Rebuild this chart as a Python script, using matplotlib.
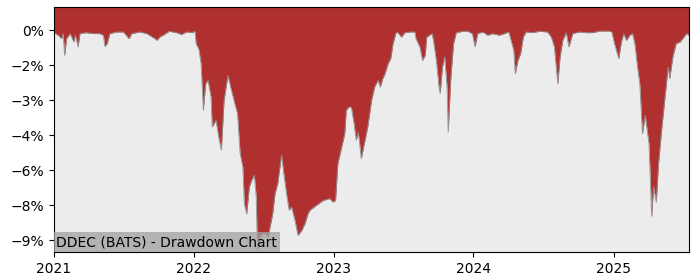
import numpy as np
import pandas as pd
import matplotlib
matplotlib.use("Agg")
import matplotlib.pyplot as plt
from matplotlib.ticker import PercentFormatter, MultipleLocator
import matplotlib.dates as mdates

# Данные просадки (в процентах)
dates = [
    "2021-01-01", "2021-01-12", "2021-01-21", "2021-01-25", "2021-01-29", "2021-02-03",
    "2021-02-12", "2021-02-22", "2021-02-26", "2021-03-05", "2021-03-10", "2021-03-26",
    "2021-04-14", "2021-04-30", "2021-05-10", "2021-05-14", "2021-05-20", "2021-05-27",
    "2021-06-14", "2021-07-01", "2021-07-16", "2021-07-23", "2021-08-13", "2021-08-31",
    "2021-09-22", "2021-09-27", "2021-10-04", "2021-10-13", "2021-10-29", "2021-11-17",
    "2021-11-30", "2021-12-13", "2021-12-27", "2022-01-04", "2022-01-07", "2022-01-14",
    "2022-01-20", "2022-01-26", "2022-02-01", "2022-02-07", "2022-02-15", "2022-02-18",
    "2022-02-28", "2022-03-07", "2022-03-14", "2022-03-21", "2022-03-31", "2022-04-08",
    "2022-04-18", "2022-04-25", "2022-05-02", "2022-05-09", "2022-05-13", "2022-05-19",
    "2022-05-26", "2022-06-01", "2022-06-08", "2022-06-13", "2022-06-16", "2022-06-22",
    "2022-07-01", "2022-07-08", "2022-07-14", "2022-07-19", "2022-07-26", "2022-08-01",
    "2022-08-08", "2022-08-15", "2022-08-18", "2022-08-24", "2022-08-31", "2022-09-07",
    "2022-09-13", "2022-09-22", "2022-09-30", "2022-10-10", "2022-10-18", "2022-10-26",
    "2022-10-31", "2022-11-17", "2022-12-05", "2022-12-22", "2022-12-30", "2023-01-06",
    "2023-01-12", "2023-01-20", "2023-01-30", "2023-02-03", "2023-02-09", "2023-02-16",
    "2023-02-22", "2023-03-01", "2023-03-06", "2023-03-09", "2023-03-14", "2023-03-22",
    "2023-03-31", "2023-04-10", "2023-04-18", "2023-04-27", "2023-05-03", "2023-05-09",
    "2023-05-15", "2023-05-23", "2023-05-30", "2023-06-05", "2023-06-12", "2023-06-16",
    "2023-06-27", "2023-07-06", "2023-07-19", "2023-08-01", "2023-08-04", "2023-08-14",
    "2023-08-21", "2023-08-28", "2023-09-01", "2023-09-08", "2023-09-15", "2023-09-19",
    "2023-09-26", "2023-10-03", "2023-10-06", "2023-10-12", "2023-10-18", "2023-10-24",
    "2023-10-27", "2023-11-03", "2023-11-10", "2023-11-17", "2023-12-04", "2023-12-15",
    "2023-12-29", "2024-01-05", "2024-01-12", "2024-01-25", "2024-02-07", "2024-02-20",
    "2024-03-08", "2024-03-22", "2024-04-02", "2024-04-08", "2024-04-15", "2024-04-19",
    "2024-04-26", "2024-05-03", "2024-05-10", "2024-05-17", "2024-06-04", "2024-06-21",
    "2024-07-12", "2024-07-22", "2024-07-30", "2024-08-08", "2024-08-14", "2024-08-21",
    "2024-08-30", "2024-09-06", "2024-09-16", "2024-10-03", "2024-10-21", "2024-11-07",
    "2024-11-25", "2024-12-20", "2024-12-27", "2025-01-03", "2025-01-14", "2025-01-21",
    "2025-01-27", "2025-02-03", "2025-02-12", "2025-02-19", "2025-02-25", "2025-03-04",
    "2025-03-10", "2025-03-17", "2025-03-24", "2025-03-27", "2025-04-03", "2025-04-07",
    "2025-04-10", "2025-04-15", "2025-04-22", "2025-04-28", "2025-05-05", "2025-05-14",
    "2025-05-23", "2025-05-27", "2025-06-05", "2025-06-13", "2025-06-23", "2025-06-30",
    "2025-07-10", "2025-07-16",
]
drawdown = [
    -0.10, -0.21, -0.36, -0.14, -1.07, -0.36,
    -0.14, -0.50, -0.21, -0.71, -0.14, -0.10,
    -0.14, -0.14, -0.21, -0.69, -0.57, -0.14,
    -0.07, -0.07, -0.36, -0.14, -0.07, -0.14,
    -0.36, -0.43, -0.29, -0.21, -0.04, -0.10,
    -0.18, -0.07, -0.10, -0.04, -0.57, -0.79,
    -1.43, -3.43, -2.29, -2.14, -2.86, -4.14,
    -3.86, -4.57, -5.14, -3.00, -1.93, -2.49,
    -3.14, -3.56, -5.29, -5.86, -7.43, -7.86,
    -6.71, -6.43, -6.21, -7.14, -9.43, -8.86,
    -8.71, -8.71, -8.86, -8.43, -7.86, -7.00,
    -6.57, -5.71, -5.36, -6.14, -7.00, -7.71,
    -7.57, -8.14, -8.79, -8.57, -8.29, -7.86,
    -7.71, -7.50, -7.29, -7.21, -7.36, -7.29,
    -5.71, -5.14, -4.43, -3.43, -3.29, -3.29,
    -3.86, -4.71, -4.36, -4.71, -5.50, -4.86,
    -4.14, -3.00, -2.43, -2.14, -2.43, -2.07,
    -1.86, -1.43, -1.21, -0.57, -0.14, -0.07,
    -0.29, -0.10, -0.07, -0.07, -0.36, -0.71,
    -1.29, -1.07, -0.29, -0.21, -0.14, -0.50,
    -1.29, -2.43, -2.71, -1.57, -1.14, -2.43,
    -4.36, -2.00, -0.57, -0.10, -0.04, -0.03,
    -0.14, -0.71, -0.14, -0.07, -0.21, -0.14,
    -0.21, -0.14, -0.07, -0.43, -0.86, -1.86,
    -1.29, -1.00, -0.29, -0.07, -0.10, -0.04,
    -0.07, -0.29, -0.71, -2.29, -1.14, -0.43,
    -0.10, -0.71, -0.14, -0.07, -0.10, -0.10,
    -0.03, -0.03, -0.07, -0.57, -1.21, -0.50,
    -0.14, -0.43, -0.21, -0.14, -0.57, -1.57,
    -2.29, -4.43, -3.64, -4.00, -4.86, -6.57,
    -7.97, -6.71, -7.36, -5.71, -4.43, -3.00,
    -1.57, -2.07, -1.07, -0.57, -0.50, -0.36,
    -0.14, -0.21,
]
title = "DDEC (BATS) - Drawdown Chart"

x = pd.to_datetime(dates)
dd = np.array(drawdown)

fig = plt.figure(figsize=(7, 2.8), dpi=100)
ax = fig.add_axes([0.077, 0.1, 0.907, 0.875])
ax.set_facecolor("#ececec")

y_top = 1.0
ax.fill_between(x, dd, y_top, color="#b03030", linewidth=0)
ax.plot(x, dd, color="#909090", linewidth=0.6)

ax.set_xlim(x[0], x[-1])
ax.set_ylim(-9.5, y_top)
ax.yaxis.set_major_locator(MultipleLocator(1.5))
ax.yaxis.set_major_formatter(PercentFormatter(decimals=0))
ax.xaxis.set_major_locator(mdates.YearLocator())
ax.xaxis.set_major_formatter(mdates.DateFormatter("%Y"))

ax.text(0.004, 0.012, title, transform=ax.transAxes, fontsize=10,
        ha="left", va="bottom",
        bbox=dict(facecolor="#a0a0a0", alpha=0.75, edgecolor="none", pad=2))

fig.savefig("out.png", dpi=100)
